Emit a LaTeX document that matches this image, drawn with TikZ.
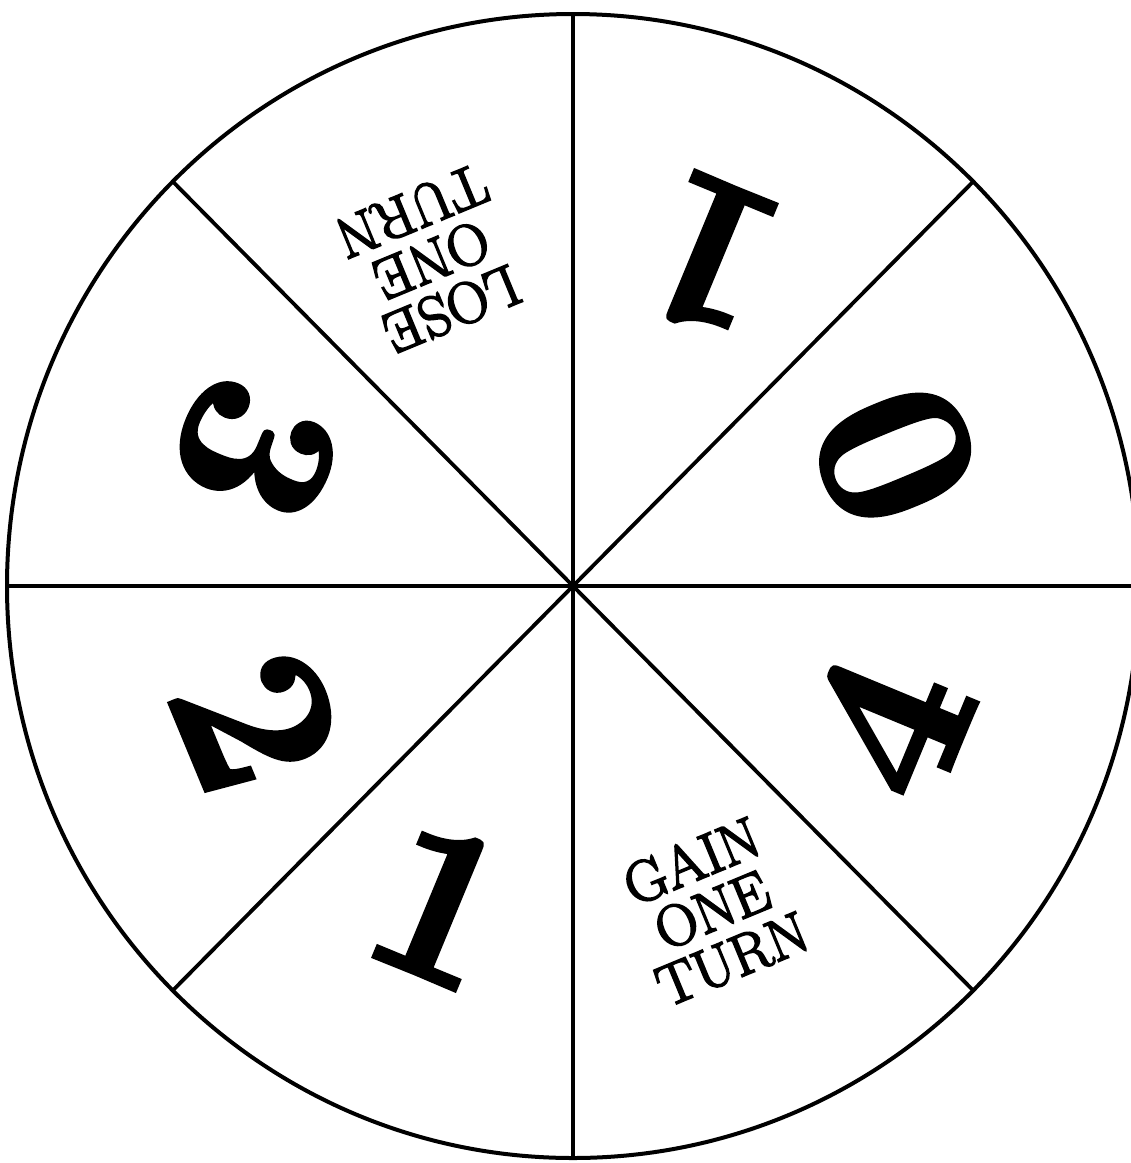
\documentclass[tikz,border=0pt]{standalone}
\usepackage{fontspec}
\usetikzlibrary{calc}
\newfontfamily\digfont{Latin Modern Roman}[BoldFeatures={FakeBold=2.5}]
\newfontfamily\wordfont{Latin Modern Roman}[FakeBold=3.5]
\begin{document}
\begin{tikzpicture}[x=1pt,y=-1pt,
  rim/.style={line width=4pt},
  spoke/.style={line width=3.8pt},
  digit/.style={font=\digfont\fontsize{222}{222}\selectfont\bfseries, inner sep=0pt, anchor=center},
  words/.style={font=\wordfont\fontsize{58}{53}\selectfont, align=center, inner sep=0pt, anchor=center}]
\useasboundingbox (0,0) rectangle (1131,1163);
\clip (0,0) rectangle (1131,1163);
\coordinate (c) at (573,586);
\def\rx{566}\def\ry{572}
\draw[rim] (c) ellipse [x radius=\rx, y radius=\ry];
\foreach \a/\n in {0/e0,45/e45,90/e90,135/e135,180/e180,225/e225,270/e270,315/e315}
  \coordinate (\n) at ($(c)+({\rx*cos(\a)},{-\ry*sin(\a)})$);
\draw[spoke] (e0) -- (e180);
\draw[spoke] (e90) -- (e270);
\draw[spoke] (e45) -- (e225);
\draw[spoke] (e135) -- (e315);
\node[digit, rotate=157.5] (one1) at (709,256) {1};
\node[digit, rotate=112.5] (zero) at (895,455) {0};
\node[digit, rotate=67.5] (four) at (888,726) {4};
\node[words, rotate=22.5] (gain) at (712,910) {GAIN\\ONE\\TURN};
\node[digit, rotate=-22.5] (one2) at (441,905) {1};
\node[digit, rotate=-67.5] (two) at (257,722) {2};
\node[digit, rotate=-112.5] (three) at (256,450) {3};
\node[words, rotate=-157.5] (lose) at (432,260) {LOSE\\ONE\\TURN};
\end{tikzpicture}
\end{document}
